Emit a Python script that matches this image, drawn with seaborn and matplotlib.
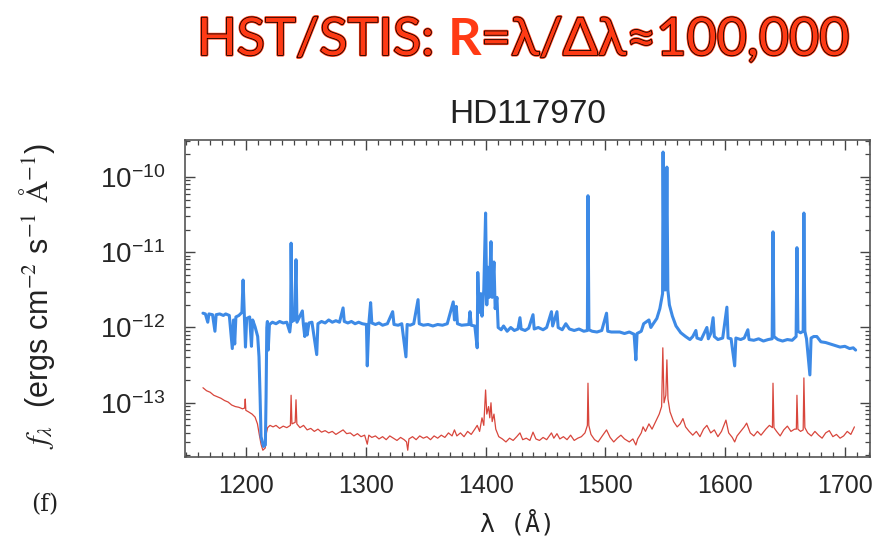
import numpy as np
import pandas as pd
import seaborn as sns
import matplotlib.pyplot as plt
import matplotlib.patheffects as pe
from matplotlib.ticker import MultipleLocator

# blue spectrum (HD117970, upper curve): wavelength in Angstrom, log10 flux
blue_wave = [1164, 1166, 1168, 1169, 1172, 1174, 1175, 1178, 1181, 1183, 1186, 1188.5, 1189.5,
             1190.5, 1191.5, 1194, 1196.5, 1197.5, 1198.5, 1199.5, 1200.5, 1203, 1204.5, 1205.5,
             1207.5, 1209.7, 1210.8, 1211.7, 1212.5, 1214.5, 1216.1, 1216.7, 1217.3, 1217.8,
             1218.5, 1219.5, 1222, 1225, 1228, 1231, 1234, 1236.5, 1237.2, 1237.6, 1238.3, 1240.5,
             1241.7, 1242.5, 1247, 1247.8, 1249, 1250, 1251, 1252.5, 1255, 1259, 1260, 1263, 1266,
             1269, 1272, 1275, 1278, 1281, 1282, 1285, 1288, 1291, 1294, 1297, 1300.5, 1301.2,
             1302.5, 1304, 1305, 1308, 1311, 1314, 1318, 1322.4, 1323.5, 1327, 1330, 1333.5,
             1334.5, 1337, 1340, 1343.6, 1344.6, 1348, 1352, 1356, 1360, 1364, 1368, 1373, 1374,
             1375.5, 1376.5, 1380, 1386, 1387, 1388, 1391, 1393, 1393.5, 1394.5, 1396, 1397,
             1398.5, 1400, 1401, 1402, 1403, 1404.5, 1405.5, 1407, 1408, 1409.5, 1410.5, 1413,
             1415, 1418, 1421, 1424, 1427, 1428.7, 1429.7, 1433, 1436, 1439.6, 1440.6, 1444, 1448,
             1451, 1455, 1456, 1459.6, 1460.6, 1464, 1467, 1470, 1474, 1478, 1482, 1485, 1485.5,
             1486.3, 1489, 1493, 1497, 1501, 1502, 1505, 1512, 1516, 1520, 1524, 1525.5, 1526.5,
             1530, 1532, 1536.4, 1538, 1540, 1543, 1545.5, 1547, 1547.8, 1548.2, 1549, 1550.5,
             1551.4, 1552.2, 1553.5, 1556, 1559, 1563, 1567, 1570.6, 1573, 1575.6, 1576.5, 1580,
             1584.8, 1586, 1588, 1590, 1591, 1594, 1598, 1601.5, 1602.5, 1605, 1608, 1609, 1613,
             1616, 1619, 1620, 1624, 1628, 1632, 1636, 1639.3, 1640, 1640.8, 1644, 1648, 1652,
             1656, 1659.3, 1660, 1660.8, 1663, 1665.2, 1665.8, 1666.6, 1668, 1670.8, 1671.8, 1674,
             1676.6, 1680, 1684, 1688, 1692, 1696, 1700, 1704, 1707, 1709]
blue_logf = [-11.81, -11.82, -11.93, -11.82, -11.83, -12.05, -11.83, -11.82, -11.84, -11.82,
             -11.84, -12.28, -11.90, -12.22, -11.86, -11.84, -11.80, -11.37, -11.83, -12.26,
             -11.88, -11.86, -12.25, -11.90, -11.99, -12.12, -12.39, -12.92, -13.45, -13.58,
             -13.56, -12.92, -12.00, -11.92, -12.30, -11.96, -11.93, -11.95, -11.92, -11.94,
             -11.93, -12.06, -11.95, -10.88, -11.92, -11.90, -11.10, -11.93, -11.78, -11.95,
             -12.12, -11.95, -12.10, -11.94, -11.93, -12.36, -11.95, -11.92, -11.94, -11.90,
             -11.93, -11.91, -11.93, -11.74, -11.92, -11.94, -11.92, -11.95, -11.93, -11.95,
             -11.96, -12.51, -11.95, -11.67, -11.94, -11.96, -11.94, -11.97, -11.95, -11.79,
             -11.96, -11.97, -11.95, -12.39, -11.96, -11.97, -11.95, -11.63, -11.95, -11.97,
             -11.96, -11.98, -11.96, -11.97, -11.95, -11.66, -11.90, -11.72, -11.95, -11.97,
             -11.96, -11.79, -11.97, -11.98, -12.27, -11.27, -11.80, -11.55, -11.85, -11.50,
             -10.48, -11.70, -11.20, -11.60, -10.86, -11.60, -11.13, -11.75, -11.60, -12.00,
             -12.03, -11.98, -12.05, -12.00, -12.04, -12.02, -11.87, -12.02, -12.04, -12.01,
             -11.83, -12.02, -12.00, -12.03, -12.00, -11.79, -11.98, -11.79, -12.00, -12.03,
             -11.95, -12.02, -12.04, -12.02, -12.05, -12.04, -10.25, -12.03, -12.05, -12.06,
             -12.04, -11.81, -12.05, -12.06, -12.06, -12.08, -12.06, -12.09, -12.43, -12.08,
             -12.05, -11.95, -11.90, -12.00, -11.95, -11.88, -11.75, -11.62, -11.55, -9.67,
             -11.50, -11.50, -9.87, -11.50, -11.70, -11.85, -11.98, -12.07, -12.12, -12.16,
             -12.12, -12.04, -12.14, -12.16, -12.00, -12.15, -12.08, -11.87, -12.12, -12.16,
             -12.14, -11.73, -12.14, -12.15, -12.51, -12.14, -12.16, -12.14, -12.03, -12.16,
             -12.17, -12.15, -12.18, -12.16, -12.15, -10.73, -12.12, -12.16, -12.18, -12.16,
             -12.17, -12.12, -10.94, -12.05, -12.07, -12.05, -10.48, -12.05, -12.15, -12.63,
             -12.14, -12.12, -12.12, -12.19, -12.20, -12.22, -12.24, -12.26, -12.25, -12.28,
             -12.27, -12.30]

# red spectrum (lower curve)
red_wave = [1164, 1167, 1170, 1173, 1176, 1179, 1182, 1185, 1188, 1191, 1194, 1197, 1198.8,
            1199.3, 1199.8, 1202, 1205, 1207.5, 1209.5, 1211, 1212.5, 1214, 1216, 1217, 1218,
            1220, 1222.5, 1225, 1228, 1231, 1234, 1237, 1237.6, 1238.3, 1241, 1241.7, 1242.4,
            1245, 1248, 1251, 1254, 1257, 1260, 1263, 1266, 1269, 1272, 1275, 1278, 1281, 1284,
            1287, 1290, 1293, 1296, 1299, 1301.2, 1302.5, 1305, 1308, 1311, 1314, 1317, 1320,
            1323, 1326, 1329, 1332, 1334, 1335, 1336, 1339, 1342, 1345, 1348, 1351, 1354, 1357,
            1360, 1363, 1366, 1369, 1372, 1374, 1376, 1379, 1382, 1385, 1388, 1391, 1393, 1395,
            1397, 1398.5, 1400, 1401, 1402.5, 1403.5, 1404.5, 1405.5, 1407, 1408.5, 1411, 1414,
            1417, 1420, 1423, 1426, 1428.7, 1431, 1434, 1437, 1439.6, 1442, 1445, 1448, 1451,
            1455, 1457, 1459.6, 1462, 1465, 1468, 1471, 1474, 1477, 1480, 1483, 1485, 1485.5,
            1486.2, 1488, 1491, 1494, 1497, 1501, 1504, 1507, 1510, 1513, 1516, 1520, 1523,
            1525.5, 1527, 1530, 1531.5, 1533.5, 1536.4, 1539, 1542, 1545, 1547, 1548, 1549,
            1550.5, 1551.4, 1552.3, 1554, 1557, 1560, 1562.5, 1564.8, 1567, 1570, 1573, 1576,
            1579, 1582, 1584.8, 1588, 1591, 1594, 1597, 1600.7, 1603, 1606, 1608, 1610, 1613,
            1616, 1618, 1621, 1624, 1627, 1630, 1634, 1637, 1639.5, 1640, 1640.8, 1643, 1646,
            1649, 1652, 1655, 1658, 1659.5, 1660, 1660.8, 1663, 1665.2, 1665.8, 1666.6, 1669,
            1672, 1675, 1678, 1681, 1684, 1687, 1690, 1693, 1696, 1699, 1702, 1705, 1708]
red_logf = [-12.80, -12.84, -12.86, -12.90, -12.92, -12.94, -12.97, -12.99, -13.03, -13.05,
            -13.06, -13.08, -13.07, -12.95, -13.10, -13.12, -13.15, -13.19, -13.28, -13.42,
            -13.55, -13.63, -13.60, -13.40, -13.33, -13.30, -13.32, -13.30, -13.34, -13.31,
            -13.33, -13.30, -12.90, -13.28, -13.26, -12.96, -13.28, -13.33, -13.30, -13.36,
            -13.34, -13.38, -13.35, -13.39, -13.37, -13.40, -13.38, -13.42, -13.39, -13.36,
            -13.41, -13.40, -13.44, -13.41, -13.45, -13.43, -13.55, -13.43, -13.46, -13.44,
            -13.48, -13.45, -13.49, -13.44, -13.47, -13.50, -13.46, -13.49, -13.52, -13.63,
            -13.48, -13.45, -13.49, -13.44, -13.47, -13.45, -13.49, -13.44, -13.47, -13.43,
            -13.46, -13.40, -13.44, -13.36, -13.44, -13.40, -13.45, -13.38, -13.42, -13.35,
            -13.30, -13.38, -13.20, -13.30, -12.83, -13.15, -13.05, -13.20, -13.00, -13.25,
            -13.15, -13.35, -13.45, -13.48, -13.52, -13.47, -13.50, -13.45, -13.40, -13.49,
            -13.47, -13.50, -13.39, -13.48, -13.50, -13.46, -13.49, -13.40, -13.47, -13.41,
            -13.48, -13.45, -13.49, -13.43, -13.50, -13.47, -13.45, -13.40, -13.30, -12.74,
            -13.30, -13.42, -13.49, -13.52, -13.45, -13.36, -13.46, -13.52, -13.47, -13.43,
            -13.48, -13.52, -13.48, -13.56, -13.48, -13.40, -13.32, -13.38, -13.28, -13.35,
            -13.25, -13.15, -13.05, -12.27, -13.00, -12.90, -12.43, -12.95, -13.12, -13.25,
            -13.32, -13.28, -13.21, -13.32, -13.38, -13.43, -13.38, -13.45, -13.35, -13.30,
            -13.40, -13.36, -13.45, -13.38, -13.23, -13.40, -13.46, -13.52, -13.44, -13.38,
            -13.32, -13.27, -13.40, -13.44, -13.38, -13.43, -13.35, -13.30, -13.33, -12.74,
            -13.33, -13.38, -13.44, -13.36, -13.31, -13.38, -13.35, -13.35, -12.90, -13.35,
            -13.38, -13.36, -12.67, -13.33, -13.40, -13.44, -13.38, -13.43, -13.47, -13.40,
            -13.37, -13.45, -13.42, -13.47, -13.44, -13.38, -13.42, -13.32]

x_ticks = [1200, 1300, 1400, 1500, 1600, 1700]

blue = pd.DataFrame({"wave": blue_wave, "flux": 10.0 ** np.array(blue_logf)})
red = pd.DataFrame({"wave": red_wave, "flux": 10.0 ** np.array(red_logf)})

sns.set_style("ticks")
plt.rcParams["font.family"] = ["Liberation Sans", "DejaVu Sans"]
plt.rcParams["mathtext.fontset"] = "stix"

fig = plt.figure(figsize=(8.82, 5.45), dpi=100)
ax = fig.add_axes([185 / 882, 1 - 457 / 545, 685 / 882, 317 / 545])

sns.lineplot(data=red, x="wave", y="flux", ax=ax, color="#d8463c", linewidth=0.9,
             sort=False, estimator=None)
sns.lineplot(data=blue, x="wave", y="flux", ax=ax, color="#3d8ae6", linewidth=2.2,
             sort=False, estimator=None)

ax.set_yscale("log")
ax.set_xlim(1149, 1721)
ax.set_ylim(10 ** -13.72, 10 ** -9.51)
ax.set_xticks(x_ticks)
ax.xaxis.set_minor_locator(MultipleLocator(10))
ax.tick_params(which="both", direction="in", top=True, right=True, color="#444444")
ax.tick_params(which="major", length=7, width=1.0)
ax.tick_params(which="minor", length=3.5, width=0.9)
ax.tick_params(axis="x", labelsize=18, pad=12)
ax.tick_params(axis="y", labelsize=20, pad=14)
for s in ax.spines.values():
    s.set_color("#555555")
    s.set_linewidth(1.2)

ax.set_xlabel("")
ax.set_ylabel("")
ax.set_title("HD117970", fontsize=24, pad=12, color="#222222")

fig.text(37 / 882, 1 - 296 / 545,
         r"$f_{\lambda}$  (ergs cm$^{-2}$ s$^{-1}$ $\mathrm{\AA}^{-1}$)",
         rotation=90, ha="center", va="center", fontsize=22, color="#222222")
fig.text(517 / 882, 1 - 523 / 545, "λ (Å)", ha="center", va="center",
         fontsize=18, color="#222222", family="DejaVu Sans Mono")
fig.text(45 / 882, 1 - 505 / 545, "(f)", ha="center", va="center",
         fontsize=17, color="#222222", family="DejaVu Serif")

# header: outlined red text with a bold R in the middle
red_c = "#ff3a14"
outline = [pe.Stroke(linewidth=2.2, foreground=red_c),
           pe.Stroke(linewidth=1.1, foreground="black"), pe.Normal()]
base_y = 1 - 55 / 545
hsize = 37.5
fig.canvas.draw()
rend = fig.canvas.get_renderer()
t1 = fig.text(197 / 882, base_y, "HST/STIS: ", fontsize=hsize, family="Lato",
              color=red_c, va="baseline", path_effects=outline)
x1 = t1.get_window_extent(rend).x1 / fig.bbox.width
t2 = fig.text(x1, base_y, "R", fontsize=hsize, family="Lato", weight="bold",
              color=red_c, va="baseline")
x2 = t2.get_window_extent(rend).x1 / fig.bbox.width
fig.text(x2, base_y, "=λ/Δλ≈100,000", fontsize=hsize, family="Lato",
         color=red_c, va="baseline", path_effects=outline)

fig.savefig("out.png", dpi=100)
